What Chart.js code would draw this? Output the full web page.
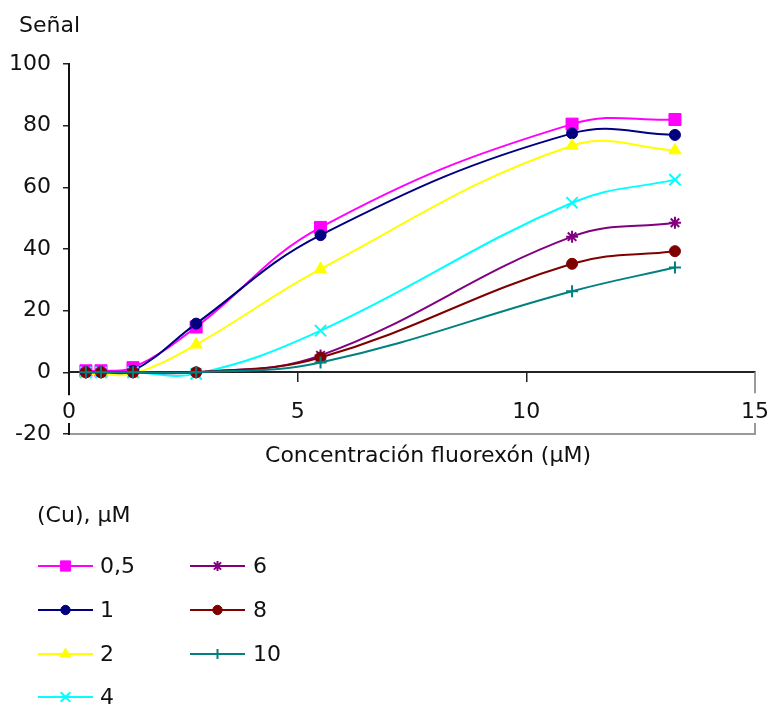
<!DOCTYPE html>
<html><head><meta charset="utf-8">
<script src="https://cdn.jsdelivr.net/npm/chart.js@4"></script>
<style>html,body{margin:0;padding:0;background:#fff}#wrap{width:769px;height:708px;position:relative}canvas{display:block}</style>
</head><body><div id="wrap"><canvas id="c" width="769" height="708"></canvas></div>
<script>
// ---- data ----
const concentrations = [0.37, 0.7, 1.4, 2.78, 5.5, 11, 13.25];
const cuLevels = ['0,5', '1', '2', '4', '6', '8', '10'];
const signal05 = [0.5, 0.5, 1.5, 14.7, 47, 80.5, 82];
const signal1  = [0, 0, 0.5, 15.8, 44.5, 77.5, 77];
const signal2  = [-0.5, -0.5, -0.5, 9, 33.5, 73.5, 72];
const signal4  = [0, 0, 0, -0.5, 13.5, 55, 62.5];
const signal6  = [0, 0, 0, 0, 5.5, 44, 48.5];
const signal8  = [0, 0, 0, 0, 4.8, 35.2, 39.3];
const signal10 = [0, 0, 0, 0, 3.2, 26.3, 34];
const xTicks = [0, 5, 10, 15];
const yTicks = [-20, 0, 20, 40, 60, 80, 100];
const yTitle = 'Señal';
const xTitle = 'Concentración fluorexón (µM)';
const legendTitle = '(Cu), µM';

// ---- styles ----
const seriesValues = [signal05, signal1, signal2, signal4, signal6, signal8, signal10];
const colors = ['#ff00ff', '#000080', '#ffff00', '#00ffff', '#800080', '#800000', '#008080'];
const styles = ['rect', 'circle', 'triangle', 'crossRot', 'star', 'circle', 'cross'];
const radii = [8.5, 5.5, 7, 8, 6, 5.5, 6];

const FONT = 'DejaVu Sans';
Chart.defaults.font.family = FONT;
Chart.defaults.font.size = 22;
Chart.defaults.color = '#111';

const datasets = seriesValues.map((vals, i) => ({
  label: cuLevels[i],
  data: vals.map((v, k) => ({x: concentrations[k], y: v})),
  showLine: true,
  borderColor: colors[i],
  backgroundColor: colors[i],
  borderWidth: 2,
  pointStyle: styles[i],
  pointRadius: radii[i],
  pointBorderWidth: (styles[i] === 'crossRot' || styles[i] === 'star' || styles[i] === 'cross') ? 2 : 1,
  pointBorderColor: colors[i],
  pointBackgroundColor: colors[i],
  tension: 0.4,
  clip: false
})).reverse();

function seg(ctx, x1, y1, x2, y2) { ctx.beginPath(); ctx.moveTo(x1, y1); ctx.lineTo(x2, y2); ctx.stroke(); }

function drawMarker(ctx, style, r, color, x, y) {
  ctx.save();
  ctx.fillStyle = color; ctx.strokeStyle = color;
  ctx.lineWidth = (style === 'crossRot' || style === 'star' || style === 'cross') ? 2 : 1;
  if (Chart.helpers && Chart.helpers.drawPoint) {
    Chart.helpers.drawPoint(ctx, {pointStyle: style, radius: r, rotation: 0, borderWidth: ctx.lineWidth}, x, y);
  } else {
    ctx.beginPath(); ctx.arc(x, y, r, 0, Math.PI * 2); ctx.fill();
  }
  ctx.restore();
}

const deco = {
  id: 'deco',
  beforeDatasetsDraw(chart) {
    const {ctx, scales: {x, y}} = chart;
    const y0 = y.getPixelForValue(0), yb = y.getPixelForValue(-20), yt = y.getPixelForValue(100);
    const x0 = x.getPixelForValue(0), x15 = x.getPixelForValue(15);
    ctx.save();
    ctx.strokeStyle = '#9a9a9a'; ctx.lineWidth = 2;
    seg(ctx, x0, yb, x15 + 1, yb);
    seg(ctx, x15, y0, x15, y0 + 21);
    seg(ctx, x15, yb - 11, x15, yb);
    ctx.strokeStyle = '#111'; ctx.lineWidth = 2;
    seg(ctx, x0, yt - 1, x0, y0 + 23);
    seg(ctx, x0, yb - 11, x0, yb + 1);
    ctx.restore();
  },
  afterDraw(chart) {
    const {ctx} = chart;
    ctx.save();
    ctx.fillStyle = '#111';
    ctx.font = '22px "' + FONT + '"';
    ctx.textBaseline = 'alphabetic';
    ctx.textAlign = 'left';
    ctx.fillText(yTitle, 19, 32);
    ctx.textAlign = 'center';
    ctx.fillText(xTitle, 428, 462);
    ctx.textAlign = 'left';
    ctx.fillText(legendTitle, 37, 522);
    // legend items
    const rows = [566, 610, 654, 697];
    const cols = [{l: 38, r: 93, t: 100}, {l: 190, r: 245, t: 253}];
    for (let i = 0; i < cuLevels.length; i++) {
      const col = cols[i < 4 ? 0 : 1];
      const yy = rows[i < 4 ? i : i - 4];
      ctx.strokeStyle = colors[i]; ctx.lineWidth = 2;
      seg(ctx, col.l, yy, col.r, yy);
      drawMarker(ctx, styles[i], radii[i] * 0.85, colors[i], (col.l + col.r) / 2, yy);
      ctx.fillStyle = '#111';
      ctx.textBaseline = 'middle';
      ctx.fillText(cuLevels[i], col.t, yy + 1);
    }
    ctx.restore();
  }
};

new Chart(document.getElementById('c'), {
  type: 'scatter',
  data: {datasets},
  options: {
    responsive: false,
    animation: false,
    devicePixelRatio: 1,
    layout: {padding: {left: 0, top: 64, right: 14, bottom: 274}},
    plugins: {legend: {display: false}, tooltip: {enabled: false}, title: {display: false}},
    scales: {
      x: {
        type: 'linear', min: 0, max: 15,
        position: {y: 0},
        afterBuildTicks: s => { s.ticks = xTicks.map(v => ({value: v})); },
        afterFit: s => { s.paddingLeft = 0; s.paddingRight = 0; },
        ticks: {padding: 18, color: '#111', font: {size: 22}, maxRotation: 0},
        grid: {drawOnChartArea: false, drawTicks: true, tickLength: 9, color: '#222', lineWidth: 1.5},
        border: {display: true, color: '#222', width: 2}
      },
      y: {
        type: 'linear', min: -20, max: 100,
        position: 'left',
        afterBuildTicks: s => { s.ticks = yTicks.map(v => ({value: v})); },
        afterFit: s => { s.width = 69; s.paddingTop = 0; s.paddingBottom = 0; },
        ticks: {padding: 12, color: '#111', font: {size: 22}},
        grid: {drawOnChartArea: false, drawTicks: true, tickLength: 6, color: '#222', lineWidth: 1.5},
        border: {display: false}
      }
    }
  },
  plugins: [deco]
});
</script></body></html>
